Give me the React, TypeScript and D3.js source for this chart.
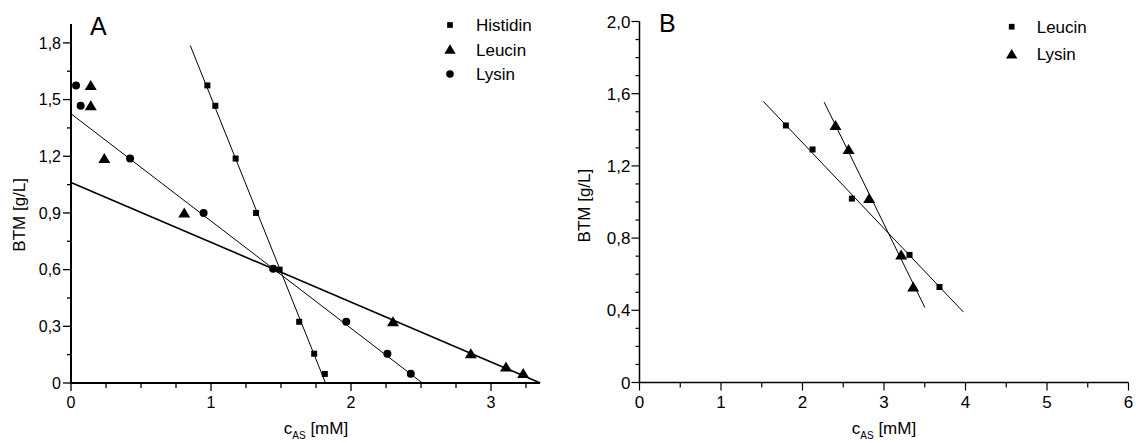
import React from "react";
import * as d3 from "d3";

// ---------- Panel A data ----------
const histidinX = [0.974, 1.031, 1.176, 1.322, 1.49, 1.63, 1.737, 1.813];
const histidinY = [1.575, 1.467, 1.188, 0.9, 0.6, 0.324, 0.155, 0.048];
const leucinAX = [0.141, 0.141, 0.238, 0.809, 2.3, 2.856, 3.107, 3.23];
const leucinAY = [1.575, 1.467, 1.188, 0.9, 0.324, 0.155, 0.085, 0.05];
const lysinAX = [0.036, 0.069, 0.422, 0.947, 1.444, 1.966, 2.26, 2.427];
const lysinAY = [1.575, 1.467, 1.188, 0.9, 0.605, 0.324, 0.155, 0.049];
// fitted lines: [x1, y1, x2, y2]
const histidinFit = [0.852, 1.786, 1.818, 0];
const leucinAFit = [0, 1.061, 3.352, 0];
const lysinAFit = [0, 1.425, 2.51, 0];

const aXTicks = [0, 1, 2, 3];
const aXMinor = [0.25, 0.5, 0.75, 1.25, 1.5, 1.75, 2.25, 2.5, 2.75, 3.25];
const aYTicks = [0, 0.3, 0.6, 0.9, 1.2, 1.5, 1.8];
const aYMinor = [0.15, 0.45, 0.75, 1.05, 1.35, 1.65];
const aLegend = ["Histidin", "Leucin", "Lysin"];

// ---------- Panel B data ----------
const leucinBX = [1.796, 2.123, 2.606, 3.313, 3.681];
const leucinBY = [1.424, 1.291, 1.019, 0.707, 0.529];
const lysinBX = [2.405, 2.565, 2.818, 3.211, 3.358];
const lysinBY = [1.424, 1.291, 1.019, 0.707, 0.529];
const leucinBFit = [1.52, 1.557, 3.975, 0.39];
const lysinBFit = [2.266, 1.553, 3.502, 0.415];

const bXTicks = [0, 1, 2, 3, 4, 5, 6];
const bXMinor = [0.5, 1.5, 2.5, 3.5, 4.5, 5.5];
const bYTicks = [0, 0.4, 0.8, 1.2, 1.6, 2.0];
const bYMinor = [0.1, 0.2, 0.3, 0.5, 0.6, 0.7, 0.9, 1.0, 1.1, 1.3, 1.4, 1.5, 1.7, 1.8, 1.9];
const bLegend = ["Leucin", "Lysin"];

const FONT = "Arial, 'Liberation Sans', Helvetica, sans-serif";

const fmtComma = (v: number) => (v === 0 ? "0" : d3.format(".1f")(v).replace(".", ","));

type Shape = "square" | "triangle" | "circle";

function Marker({ x, y, shape, s = 1 }: { x: number; y: number; shape: Shape; s?: number }) {
  if (shape === "square") {
    const w = 6 * s;
    return <rect x={x - w / 2} y={y - w / 2} width={w} height={w} fill="#000" />;
  }
  if (shape === "circle") {
    return <circle cx={x} cy={y} r={4 * s} fill="#000" />;
  }
  const w = 12 * s;
  const h = 10 * s;
  const p = d3.path();
  p.moveTo(x, y - h * 0.55);
  p.lineTo(x + w / 2, y + h * 0.45);
  p.lineTo(x - w / 2, y + h * 0.45);
  p.closePath();
  return <path d={p.toString()} fill="#000" />;
}

function XAxisTitle({ x, y }: { x: number; y: number }) {
  return (
    <text x={x} y={y} fontFamily={FONT} fontSize={17} textAnchor="middle" fill="#000">
      c
      <tspan fontSize={10} dy={5}>AS</tspan>
      <tspan dy={-5}> [mM]</tspan>
    </text>
  );
}

export default function App() {
  // Panel A scales
  const ax = d3.scaleLinear().domain([0, 3.35]).range([71, 540]);
  const ay = d3.scaleLinear().domain([0, 1.9]).range([383, 24]);
  // Panel B scales
  const bx = d3.scaleLinear().domain([0, 6]).range([639.5, 1128.5]);
  const by = d3.scaleLinear().domain([0, 2]).range([382.5, 21.5]);

  const line = d3.line<[number, number]>();

  const fitPath = (f: number[], sx: any, sy: any) =>
    line([
      [sx(f[0]), sy(f[1])],
      [sx(f[2]), sy(f[3])],
    ]) as string;

  return (
    <svg
      width={1136}
      height={443}
      style={{ position: "absolute", left: 0, top: 0, background: "#fff" }}
    >
      <rect x={0} y={0} width={1136} height={443} fill="#fff" />

      {/* ================= Panel A ================= */}
      <g>
        {/* fit lines */}
        <path d={fitPath(histidinFit, ax, ay)} stroke="#000" strokeWidth={1} fill="none" />
        <path d={fitPath(lysinAFit, ax, ay)} stroke="#000" strokeWidth={1} fill="none" />
        <path d={fitPath(leucinAFit, ax, ay)} stroke="#000" strokeWidth={1.6} fill="none" />

        {/* markers */}
        {histidinX.map((v, i) => (
          <Marker key={"h" + i} x={ax(v)} y={ay(histidinY[i])} shape="square" />
        ))}
        {leucinAX.map((v, i) => (
          <Marker key={"la" + i} x={ax(v)} y={ay(leucinAY[i])} shape="triangle" />
        ))}
        {lysinAX.map((v, i) => (
          <Marker key={"ya" + i} x={ax(v)} y={ay(lysinAY[i])} shape="circle" />
        ))}

        {/* axes */}
        <line x1={ax(0)} x2={ax(0)} y1={ay(0) + 1} y2={ay(1.9)} stroke="#000" strokeWidth={2} />
        <line x1={ax(0) - 1} x2={ax(3.35)} y1={ay(0)} y2={ay(0)} stroke="#000" strokeWidth={2} />

        {aYTicks.map((t) => (
          <g key={"ayt" + t}>
            <line x1={ax(0) - 8} x2={ax(0)} y1={ay(t)} y2={ay(t)} stroke="#000" strokeWidth={1.3} />
            <text
              x={ax(0) - 10}
              y={ay(t)}
              dy="0.36em"
              textAnchor="end"
              fontFamily={FONT}
              fontSize={16}
              fill="#000"
            >
              {fmtComma(t)}
            </text>
          </g>
        ))}
        {aYMinor.map((t) => (
          <line key={"aym" + t} x1={ax(0) - 4} x2={ax(0)} y1={ay(t)} y2={ay(t)} stroke="#000" strokeWidth={1.3} />
        ))}
        {aXTicks.map((t) => (
          <g key={"axt" + t}>
            <line x1={ax(t)} x2={ax(t)} y1={ay(0)} y2={ay(0) + 8} stroke="#000" strokeWidth={1.3} />
            <text x={ax(t)} y={408} textAnchor="middle" fontFamily={FONT} fontSize={16} fill="#000">
              {t}
            </text>
          </g>
        ))}
        {aXMinor.map((t) => (
          <line key={"axm" + t} x1={ax(t)} x2={ax(t)} y1={ay(0)} y2={ay(0) + 5} stroke="#000" strokeWidth={1.3} />
        ))}

        {/* titles */}
        <text x={90} y={35} fontFamily={FONT} fontSize={25} fill="#000">
          A
        </text>
        <XAxisTitle x={ax(1.75)} y={434} />
        <text
          transform={`translate(25, ${ay(0.89)}) rotate(-90)`}
          textAnchor="middle"
          fontFamily={FONT}
          fontSize={17}
          fill="#000"
        >
          BTM [g/L]
        </text>

        {/* legend */}
        {aLegend.map((name, i) => {
          const shapes: Shape[] = ["square", "triangle", "circle"];
          const yy = 25 + i * 24.5;
          return (
            <g key={"al" + name}>
              <Marker x={450} y={yy} shape={shapes[i]} s={shapes[i] === "square" ? 0.95 : 0.95} />
              <text x={476} y={yy} dy="0.36em" fontFamily={FONT} fontSize={17} fill="#000">
                {name}
              </text>
            </g>
          );
        })}
      </g>

      {/* ================= Panel B ================= */}
      <g>
        <path d={fitPath(leucinBFit, bx, by)} stroke="#000" strokeWidth={1} fill="none" />
        <path d={fitPath(lysinBFit, bx, by)} stroke="#000" strokeWidth={1} fill="none" />

        {leucinBX.map((v, i) => (
          <Marker key={"lb" + i} x={bx(v)} y={by(leucinBY[i])} shape="square" />
        ))}
        {lysinBX.map((v, i) => (
          <Marker key={"yb" + i} x={bx(v)} y={by(lysinBY[i])} shape="triangle" />
        ))}

        <line x1={bx(0)} x2={bx(0)} y1={by(0) + 0.75} y2={by(2)} stroke="#000" strokeWidth={1.5} />
        <line x1={bx(0) - 0.75} x2={bx(6)} y1={by(0)} y2={by(0)} stroke="#000" strokeWidth={1.5} />

        {bYTicks.map((t) => (
          <g key={"byt" + t}>
            <line x1={bx(0) - 8} x2={bx(0)} y1={by(t)} y2={by(t)} stroke="#000" strokeWidth={1.2} />
            <text
              x={bx(0) - 9}
              y={by(t)}
              dy="0.36em"
              textAnchor="end"
              fontFamily={FONT}
              fontSize={17}
              fill="#000"
            >
              {fmtComma(t)}
            </text>
          </g>
        ))}
        {bYMinor.map((t) => (
          <line key={"bym" + t} x1={bx(0) - 4} x2={bx(0)} y1={by(t)} y2={by(t)} stroke="#000" strokeWidth={1.2} />
        ))}
        {bXTicks.map((t) => (
          <g key={"bxt" + t}>
            <line x1={bx(t)} x2={bx(t)} y1={by(0)} y2={by(0) + 8} stroke="#000" strokeWidth={1.2} />
            <text x={bx(t)} y={408} textAnchor="middle" fontFamily={FONT} fontSize={17} fill="#000">
              {t}
            </text>
          </g>
        ))}
        {bXMinor.map((t) => (
          <line key={"bxm" + t} x1={bx(t)} x2={bx(t)} y1={by(0)} y2={by(0) + 5} stroke="#000" strokeWidth={1.2} />
        ))}

        <text x={659} y={32} fontFamily={FONT} fontSize={25} fill="#000">
          B
        </text>
        <XAxisTitle x={bx(3.0)} y={434} />
        <text
          transform={`translate(590, ${by(0.98)}) rotate(-90)`}
          textAnchor="middle"
          fontFamily={FONT}
          fontSize={17}
          fill="#000"
        >
          BTM [g/L]
        </text>

        {bLegend.map((name, i) => {
          const shapes: Shape[] = ["square", "triangle"];
          const yy = 26.7 + i * 27.6;
          return (
            <g key={"bl" + name}>
              <Marker x={1011.7} y={yy} shape={shapes[i]} s={0.95} />
              <text x={1036.7} y={yy} dy="0.36em" fontFamily={FONT} fontSize={17} fill="#000">
                {name}
              </text>
            </g>
          );
        })}
      </g>
    </svg>
  );
}
